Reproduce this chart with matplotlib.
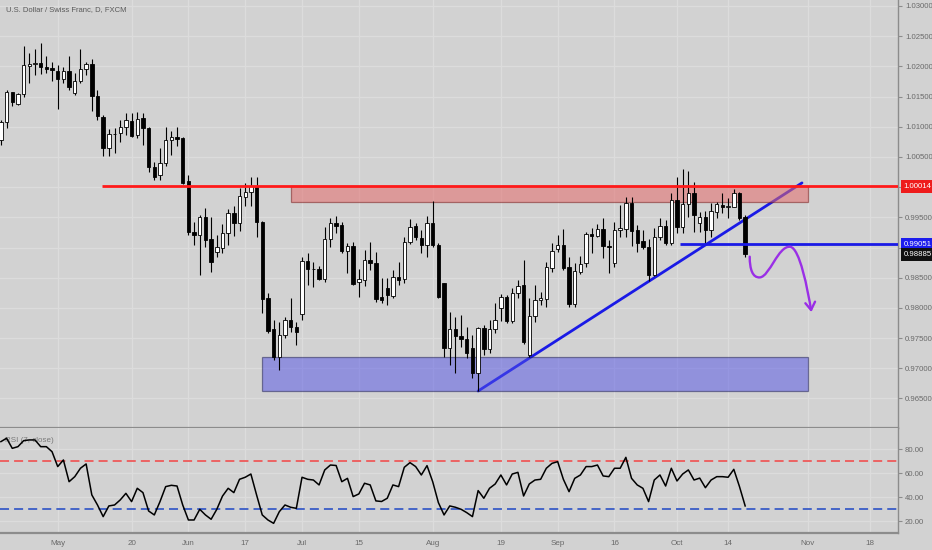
import matplotlib
matplotlib.use("Agg")
import matplotlib.pyplot as plt
from matplotlib.patches import Rectangle, PathPatch
from matplotlib.path import Path
import numpy as np

# ---------------- data (bar index 0 = 1 May 2019) ----------------
first_index = -10
opens = [1.00781, 1.01084, 1.01571, 1.01377, 1.01537, 1.02014, 1.02039, 1.02061, 1.01985, 1.01968,
         1.01928, 1.01786, 1.01928, 1.01564, 1.01763, 1.01956, 1.02039, 1.01509, 1.01166, 1.00653,
         1.00880, 1.00892, 1.00991, 1.01100, 1.00863, 1.01140, 1.00984, 1.00338, 1.00201, 1.00395,
         1.00781, 1.00830, 1.00809, 1.00102, 0.99262, 0.99207, 0.99501, 0.99136, 0.98931, 0.98987,
         0.99246, 0.99567, 0.99401, 0.99832, 0.99924, 1.00019, 0.99428, 0.98159, 0.97646, 0.97192,
         0.97551, 0.97800, 0.97679, 0.97899, 0.98777, 0.98644, 0.98644, 0.98474, 0.99136, 0.99401,
         0.99373, 0.98942, 0.99030, 0.98424, 0.98462, 0.98793, 0.98749, 0.98186, 0.98325, 0.98197,
         0.98517, 0.98474, 0.99096, 0.99356, 0.99163, 0.99042, 0.99411, 0.99042, 0.98408, 0.97331,
         0.97646, 0.97540, 0.97480, 0.97331, 0.96927, 0.97672, 0.97315, 0.97646, 0.97994, 0.98176,
         0.97788, 0.98252, 0.98379, 0.97220, 0.97866, 0.98131, 0.98143, 0.98656, 0.98971, 0.99042,
         0.98673, 0.98065, 0.98600, 0.98739, 0.99219, 0.99191, 0.99307, 0.99025, 0.98739, 0.99290,
         0.99307, 0.99732, 0.99290, 0.99113, 0.99004, 0.98545, 0.99169, 0.99356, 0.99080, 0.99787,
         0.99335, 0.99721, 0.99898, 0.99411, 0.99501, 0.99290, 0.99593, 0.99704, 0.99676, 0.99676,
         0.99908, 0.99510]
highs = [1.01112, 1.01609, 1.01580, 1.01554, 1.02337, 1.02221, 1.02288, 1.02392, 1.02172, 1.02077,
         1.02023, 1.01994, 1.02172, 1.01885, 1.02283, 1.02077, 1.02117, 1.01609, 1.01195, 1.00958,
         1.00979, 1.01112, 1.01223, 1.01223, 1.01249, 1.01223, 1.01001, 1.00421, 1.00643, 1.01001,
         1.00930, 1.01001, 1.00830, 1.00201, 0.99428, 0.99539, 0.99650, 0.99510, 0.99207, 0.99390,
         0.99633, 0.99688, 0.99981, 1.00064, 1.00163, 1.00163, 0.99444, 0.98242, 0.97800, 0.97772,
         0.97854, 0.98159, 0.97772, 0.98848, 0.98914, 0.98765, 0.98694, 0.99335, 0.99484, 0.99522,
         0.99428, 0.99070, 0.99096, 0.98639, 0.98959, 0.99096, 0.98931, 0.98490, 0.98490, 0.98628,
         0.98765, 0.99179, 0.99467, 0.99401, 0.99290, 0.99522, 0.99775, 0.99070, 0.98418, 0.97937,
         0.97854, 0.97883, 0.97689, 0.97551, 0.97689, 0.97719, 0.97800, 0.98086, 0.98230, 0.98214,
         0.98325, 0.98462, 0.98793, 0.98159, 0.98379, 0.98268, 0.98765, 0.99070, 0.99207, 0.99302,
         0.98848, 0.98739, 0.98860, 0.99262, 0.99318, 0.99390, 0.99484, 0.99125, 0.99428, 0.99704,
         0.99842, 0.99842, 0.99373, 0.99290, 0.99136, 0.99318, 0.99484, 0.99456, 0.99898, 1.00173,
         1.00295, 1.00272, 1.00090, 0.99593, 0.99610, 0.99742, 0.99754, 0.99898, 0.99820, 0.99964,
         0.99920, 0.99544]
lows = [1.00698, 1.00974, 1.01344, 1.01360, 1.01498, 1.01725, 1.01857, 1.01874, 1.01895, 1.01763,
        1.01289, 1.01720, 1.01609, 1.01526, 1.01720, 1.01857, 1.01261, 1.01112, 1.00516, 1.00516,
        1.00570, 1.00752, 1.00863, 1.00835, 1.00819, 1.00698, 1.00256, 1.00118, 1.00118, 1.00350,
        1.00532, 1.00681, 1.00052, 0.99207, 0.99042, 0.98545, 0.99014, 0.98600, 0.98848, 0.98914,
        0.99042, 0.99191, 0.99279, 0.99688, 0.99688, 0.99179, 0.97921, 0.97580, 0.97137, 0.96972,
        0.97497, 0.97606, 0.97386, 0.97800, 0.98379, 0.98351, 0.98462, 0.98434, 0.99014, 0.99236,
        0.98904, 0.98573, 0.98379, 0.98176, 0.98363, 0.98628, 0.98103, 0.98076, 0.98048, 0.98159,
        0.98379, 0.98408, 0.99058, 0.99125, 0.98914, 0.98848, 0.99014, 0.98159, 0.97192, 0.97055,
        0.96927, 0.97358, 0.97166, 0.96834, 0.96624, 0.97220, 0.97248, 0.97590, 0.97788, 0.97745,
        0.97745, 0.98159, 0.97402, 0.97192, 0.97772, 0.98048, 0.98020, 0.98600, 0.98931, 0.98628,
        0.98010, 0.98020, 0.98562, 0.98682, 0.98904, 0.99169, 0.98822, 0.98573, 0.98682, 0.99169,
        0.99169, 0.99025, 0.98931, 0.98971, 0.98451, 0.98528, 0.99125, 0.99042, 0.99042, 0.99236,
        0.99236, 0.99510, 0.99262, 0.99262, 0.99070, 0.99169, 0.99489, 0.99572, 0.99489, 0.99666,
        0.99456, 0.98848]
closes = [1.01084, 1.01571, 1.01415, 1.01537, 1.02023, 1.02034, 1.02051, 1.01985, 1.01961, 1.01940,
          1.01786, 1.01928, 1.01653, 1.01763, 1.01956, 1.02034, 1.01509, 1.01178, 1.00653, 1.00875,
          1.00872, 1.00991, 1.01112, 1.00847, 1.01123, 1.00984, 1.00338, 1.00173, 1.00395, 1.00781,
          1.00835, 1.00805, 1.00064, 0.99262, 0.99207, 0.99501, 0.99125, 0.98765, 0.99004, 0.99246,
          0.99577, 0.99401, 0.99853, 0.99924, 1.00019, 0.99428, 0.98143, 0.97623, 0.97192, 0.97551,
          0.97800, 0.97679, 0.97606, 0.98777, 0.98639, 0.98636, 0.98474, 0.99136, 0.99401, 0.99361,
          0.98942, 0.99025, 0.98391, 0.98474, 0.98793, 0.98739, 0.98143, 0.98131, 0.98214, 0.98517,
          0.98462, 0.99096, 0.99335, 0.99179, 0.99042, 0.99401, 0.99042, 0.98186, 0.97331, 0.97646,
          0.97535, 0.97480, 0.97248, 0.96927, 0.97672, 0.97315, 0.97646, 0.97800, 0.98176, 0.97788,
          0.98252, 0.98363, 0.97440, 0.97866, 0.98131, 0.98159, 0.98673, 0.98947, 0.99042, 0.98656,
          0.98065, 0.98616, 0.98727, 0.99219, 0.99191, 0.99307, 0.99025, 0.99004, 0.99290, 0.99318,
          0.99732, 0.99274, 0.99080, 0.99004, 0.98545, 0.99169, 0.99356, 0.99080, 0.99787, 0.99335,
          0.99721, 0.99908, 0.99539, 0.99501, 0.99290, 0.99610, 0.99716, 0.99676, 0.99683, 0.99898,
          0.99484, 0.98885]
rsi_values = [86.4, 89.2, 80.8, 82.2, 87.2, 87.8, 87.8, 82.2, 82.2, 78.0,
              65.6, 71.1, 53.0, 57.2, 64.2, 67.8, 42.0, 33.6, 23.9, 32.8,
              33.6, 37.8, 43.3, 36.4, 47.5, 43.9, 28.6, 25.3, 36.4, 48.9,
              50.0, 49.4, 33.6, 21.1, 21.1, 30.0, 25.3, 21.7, 30.0, 41.0,
              47.5, 43.9, 55.0, 56.7, 59.4, 42.0, 25.3, 21.1, 18.3, 28.0,
              33.6, 31.7, 30.8, 56.7, 55.0, 54.4, 50.3, 62.8, 66.9, 66.5,
              53.0, 55.8, 40.6, 42.8, 51.7, 50.3, 37.0, 36.5, 39.2, 50.3,
              48.9, 65.0, 68.9, 65.6, 58.6, 66.4, 53.0, 35.6, 25.3, 32.8,
              31.7, 30.0, 27.2, 23.9, 45.6, 39.2, 47.5, 51.1, 58.6, 50.3,
              59.4, 60.8, 41.1, 51.1, 54.4, 55.0, 64.2, 68.3, 69.7, 55.0,
              44.7, 55.8, 58.6, 65.6, 65.6, 66.9, 57.8, 57.2, 64.2, 64.2,
              73.3, 55.8, 50.3, 47.5, 36.4, 54.4, 58.6, 49.4, 64.2, 53.6,
              59.4, 62.8, 54.4, 56.0, 48.0, 54.4, 57.2, 57.2, 56.7, 63.3,
              48.9, 32.8]

x_tick_pos = [0, 13, 23, 33, 43, 53, 66, 78, 88, 98, 109, 118, 132, 143]
x_tick_labels = ["May", "20", "Jun", "17", "Jul", "15", "Aug", "19", "Sep", "16", "Oct", "14", "Nov", "18"]
price_ticks = [0.965, 0.970, 0.975, 0.980, 0.985, 0.990, 0.995, 1.000, 1.005, 1.010, 1.015, 1.020, 1.025, 1.030]
rsi_ticks = [20, 40, 60, 80]

resistance_level = 1.00014
resistance_zone = (41, 132, 0.99749, 1.00014)   # x0, x1, y0, y1
support_zone = (36, 132, 0.96629, 0.97182)
trend_x = [74, 131]
trend_y = [0.96624, 1.00070]
break_level = 0.99051
break_start = 109.6
res_start = 7.8
last_price = 0.98885
title = "U.S. Dollar / Swiss Franc, D, FXCM"

# --------------------------- style ---------------------------
BG = "#d2d2d2"
GRID = "#dcdcdc"
TXT = "#6a6a6a"
FONT = "Liberation Sans"
plt.rcParams["font.family"] = [FONT, "DejaVu Sans"]

W, H = 932, 550
fig = plt.figure(figsize=(W / 100, H / 100), dpi=100, facecolor=BG)
right = 898 / W
ax = fig.add_axes([0, 1 - 428 / H, right, 428 / H], facecolor=BG)
axr = fig.add_axes([0, 1 - 533 / H, right, 105 / H], facecolor=BG, sharex=ax)

n = len(opens)
xs = np.arange(first_index, first_index + n)
o = np.array(opens); h = np.array(highs); l = np.array(lows); c = np.array(closes)

# grid
for a in (ax, axr):
    a.set_axisbelow(True)
    a.grid(True, color=GRID, lw=1.0)
    for s in ("left", "top"):
        a.spines[s].set_visible(False)
    a.spines["right"].set_color("#8c8c8c")
    a.spines["right"].set_linewidth(1.0)
    a.spines["bottom"].set_color("#8c8c8c")
    a.spines["bottom"].set_linewidth(1.6)

# trend line (drawn under the zones so it tints through them)
ax.plot(trend_x, trend_y, color="#1a1ae6", lw=2.0, zorder=1.9, solid_capstyle="round")

# zones
x0, x1, y0, y1 = resistance_zone
ax.add_patch(Rectangle((x0, y0), x1 - x0, y1 - y0, facecolor="#e56b6b", alpha=0.55,
                       edgecolor="#7a2020", lw=0.9, zorder=2))
x0, x1, y0, y1 = support_zone
ax.add_patch(Rectangle((x0, y0), x1 - x0, y1 - y0, facecolor="#5252e6", alpha=0.5,
                       edgecolor="#1a1a4a", lw=0.9, zorder=2))

# candles
up = c >= o
ax.vlines(xs, l, h, color="black", lw=0.8, zorder=3)
body_bottom = np.minimum(o, c)
body_h = np.maximum(np.abs(c - o), 0.00004)
ax.bar(xs, body_h, bottom=body_bottom, width=0.6,
       color=np.where(up, "white", "black"), edgecolor="black", linewidth=0.6, zorder=4)

# horizontal lines
ax.hlines(resistance_level, res_start, 150, color="#ff1a1a", lw=2.0, zorder=5)
ax.hlines(break_level, break_start, 150, color="#1a1ae6", lw=2.0, zorder=5)

# hand-drawn purple arrow (bezier path in data coords)
verts = [(121.8, 0.98848), (121.8, 0.98640), (122.3, 0.98495), (123.6, 0.98505),
         (125.3, 0.98520), (126.8, 0.99030), (128.9, 0.99012),
         (130.6, 0.99000), (132.0, 0.98300), (132.6, 0.97966)]
codes = [Path.MOVETO, Path.CURVE4, Path.CURVE4, Path.CURVE4,
         Path.CURVE4, Path.CURVE4, Path.CURVE4,
         Path.CURVE4, Path.CURVE4, Path.CURVE4]
ax.add_patch(PathPatch(Path(verts, codes), facecolor="none", edgecolor="#9a2fe6", lw=1.7,
                       zorder=6, capstyle="round"))
ax.plot([131.6, 132.6, 133.3], [0.98077, 0.97966, 0.98103], color="#9a2fe6", lw=1.7,
        zorder=6, solid_capstyle="round", solid_joinstyle="round")

# axes limits / ticks
ax.set_xlim(-10.16, 147.9)
ax.set_ylim(0.96011, 1.03099)
ax.yaxis.tick_right()
ax.set_yticks(price_ticks)
ax.set_yticklabels(["" if abs(p - 1.0) < 1e-9 or abs(p - 0.99) < 1e-9 else f"{p:.5f}"
                    for p in price_ticks])
ax.tick_params(axis="y", colors="#8c8c8c", labelcolor=TXT, labelsize=5.6, length=3, pad=2)
ax.set_xticks(x_tick_pos)
ax.tick_params(axis="x", length=0, labelbottom=False)

# price labels on the axis
def price_tag(val, fc):
    ax.annotate(f"{val:.5f}", xy=(1.0, val), xycoords=("axes fraction", "data"),
                xytext=(4, 0), textcoords="offset points", ha="left", va="center",
                fontsize=5.6, color="white", annotation_clip=False, zorder=10,
                bbox=dict(boxstyle="square,pad=0.35", fc=fc, ec="none"))

price_tag(resistance_level, "#ee1c1c")
price_tag(break_level, "#1c1ced")
price_tag(last_price, "#111111")

fig.text(6 / W, 1 - 10 / H, title, fontsize=5.5, color="#5a5a5a", va="center", ha="left")

# RSI panel
axr.plot(xs, rsi_values, color="black", lw=1.1, zorder=4)
axr.axhline(70, color="#ee5a5a", lw=1.3, ls=(0, (5, 2.8)), zorder=3)
axr.axhline(30, color="#3a5cc6", lw=1.3, ls=(0, (5, 2.8)), zorder=3)
axr.set_ylim(10.25, 97.75)
axr.yaxis.tick_right()
axr.set_yticks(rsi_ticks)
axr.set_yticklabels([f"{v:.2f}" for v in rsi_ticks])
axr.tick_params(axis="y", colors="#8c8c8c", labelcolor=TXT, labelsize=5.6, length=3, pad=2)
axr.set_xticks(x_tick_pos)
axr.set_xticklabels(x_tick_labels)
axr.tick_params(axis="x", length=0, labelsize=5.8, labelcolor=TXT, pad=5)
axr.text(5 / W / right, 0.88, "RSI (7, close)", transform=axr.transAxes,
         fontsize=5.8, color="#7a7a7a", va="center", ha="left", zorder=2)

fig.savefig("out.png", dpi=100, facecolor=BG)
